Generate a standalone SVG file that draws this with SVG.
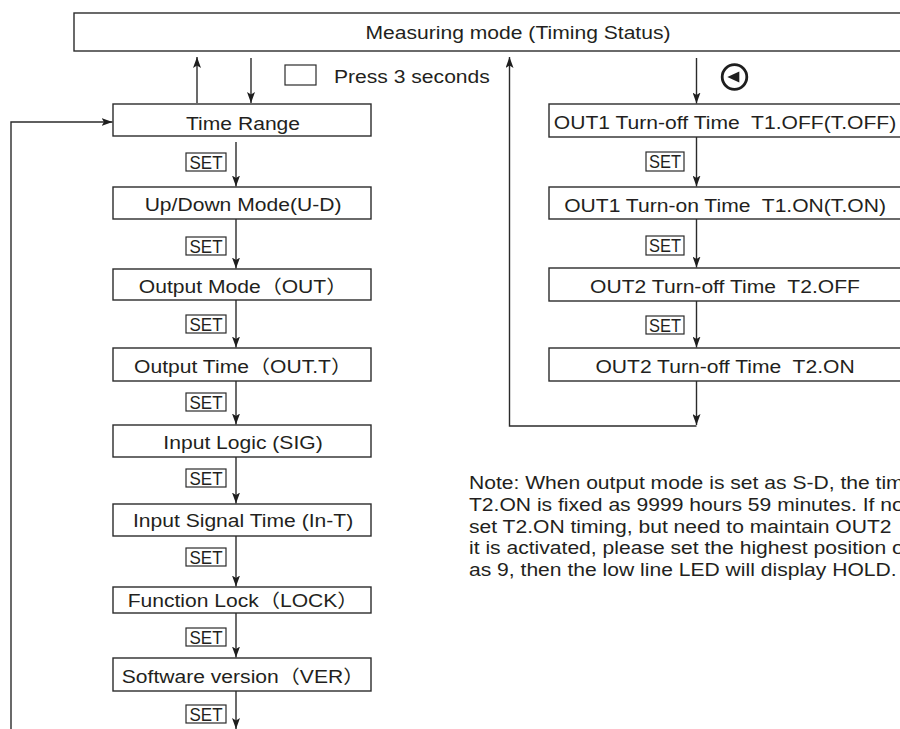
<svg xmlns="http://www.w3.org/2000/svg" width="900" height="729" viewBox="0 0 900 729">
<style>
.box{fill:#fff;stroke:#2b2b2b;stroke-width:1.4}
.key{fill:#fff;stroke:#2b2b2b;stroke-width:1.2}
.t{font-family:"Liberation Sans",Arial,"Noto Sans CJK SC",sans-serif;font-size:18.5px;fill:#231f20}
.c{text-anchor:middle}
.set{font-family:"Liberation Sans",Arial,sans-serif;font-size:18.5px;fill:#231f20;text-anchor:middle}
.ln{fill:none;stroke:#2b2b2b;stroke-width:1.4}
.arr{marker-end:url(#ah)}
</style>
<defs>
<marker id="ah" viewBox="0 0 11 8" markerWidth="11" markerHeight="8" refX="11" refY="4" orient="auto" markerUnits="userSpaceOnUse">
<path d="M0,0 L11,4 L0,8 L2.5,4 z" fill="#1e1e1e"/>
</marker>
</defs>
<rect width="900" height="729" fill="#fff"/>

<g id="measuring">
<rect class="box" x="74" y="13" width="840" height="38"/>
<text class="t c" transform="scale(1.14,1)" x="454.4" y="39">Measuring mode (Timing Status)</text>
</g>

<g id="legend-press">
<rect class="key" x="285" y="65" width="31" height="20"/>
<text class="t" transform="scale(1.14,1)" x="293" y="83">Press 3 seconds</text>
</g>

<g id="legend-left-key">
<circle cx="734.5" cy="77" r="12.3" fill="none" stroke="#1e1e1e" stroke-width="2.8"/>
<path d="M727.3,77 L739.3,71.5 L739.3,82.5 z" fill="#1e1e1e"/>
</g>

<g id="time-range">
<rect class="box" x="113" y="104" width="258" height="32"/>
<text class="t c" transform="scale(1.14,1)" x="213.2" y="130">Time Range</text>
</g>
<g id="up-down-mode">
<rect class="box" x="113" y="187" width="258" height="32"/>
<text class="t c" transform="scale(1.14,1)" x="213.2" y="211">Up/Down Mode(U-D)</text>
</g>
<g id="output-mode">
<rect class="box" x="113" y="269" width="258" height="31"/>
<text class="t c" transform="scale(1.14,1)" x="213.2" y="293">Output Mode（OUT）</text>
</g>
<g id="output-time">
<rect class="box" x="113" y="348" width="258" height="33"/>
<text class="t c" transform="scale(1.14,1)" x="213.2" y="373">Output Time（OUT.T）</text>
</g>
<g id="input-logic">
<rect class="box" x="113" y="425" width="258" height="32"/>
<text class="t c" transform="scale(1.14,1)" x="213.2" y="449">Input Logic (SIG)</text>
</g>
<g id="input-signal-time">
<rect class="box" x="113" y="504" width="258" height="32"/>
<text class="t c" transform="scale(1.14,1)" x="213.2" y="527">Input Signal Time (In-T)</text>
</g>
<g id="function-lock">
<rect class="box" x="113" y="587" width="258" height="26"/>
<text class="t c" transform="scale(1.14,1)" x="213.2" y="607">Function Lock（LOCK）</text>
</g>
<g id="software-version">
<rect class="box" x="113" y="658" width="258" height="33"/>
<text class="t c" transform="scale(1.14,1)" x="213.2" y="683">Software version（VER）</text>
</g>

<g id="t1-off">
<rect class="box" x="549" y="104" width="352" height="33"/>
<text class="t c" transform="scale(1.14,1)" x="636" y="129.5" xml:space="preserve">OUT1 Turn-off Time  T1.OFF(T.OFF)</text>
</g>
<g id="t1-on">
<rect class="box" x="549" y="187" width="352" height="32"/>
<text class="t c" transform="scale(1.14,1)" x="636" y="212.5" xml:space="preserve">OUT1 Turn-on Time  T1.ON(T.ON)</text>
</g>
<g id="t2-off">
<rect class="box" x="549" y="268" width="352" height="33"/>
<text class="t c" transform="scale(1.14,1)" x="636" y="293" xml:space="preserve">OUT2 Turn-off Time  T2.OFF</text>
</g>
<g id="t2-on">
<rect class="box" x="549" y="348" width="352" height="33"/>
<text class="t c" transform="scale(1.14,1)" x="636" y="373.5" xml:space="preserve">OUT2 Turn-off Time  T2.ON</text>
</g>

<g id="connectors">
<path class="ln arr" d="M197,103 V57"/>
<path class="ln arr" d="M251,58 V103"/>
<path class="ln arr" d="M696.5,426 H509.5 V57"/>
<path class="ln arr" d="M696.5,58 V103.5"/>
<path class="ln arr" d="M696.5,137 V186.5"/>
<path class="ln arr" d="M696.5,219 V267.5"/>
<path class="ln arr" d="M696.5,301 V347.5"/>
<path class="ln arr" d="M696.5,381 V425"/>
<path class="ln arr" d="M236,142 V186.5"/>
<path class="ln arr" d="M236,219 V268.5"/>
<path class="ln arr" d="M236,300 V347.5"/>
<path class="ln arr" d="M236,381 V424.5"/>
<path class="ln arr" d="M236,457 V503.5"/>
<path class="ln arr" d="M236,536 V586.5"/>
<path class="ln arr" d="M236,613 V657.5"/>
<path class="ln arr" d="M236,691 V729"/>
<path class="ln arr" d="M11,729 V122 H112.5"/>
</g>

<g id="set-labels">
<rect class="key" x="186" y="153" width="40" height="18"/><text class="set" x="206" y="168.5" textLength="33" lengthAdjust="spacingAndGlyphs">SET</text>
<rect class="key" x="186" y="237" width="40" height="18"/><text class="set" x="206" y="252.5" textLength="33" lengthAdjust="spacingAndGlyphs">SET</text>
<rect class="key" x="186" y="315" width="40" height="18"/><text class="set" x="206" y="330.5" textLength="33" lengthAdjust="spacingAndGlyphs">SET</text>
<rect class="key" x="186" y="393" width="40" height="18"/><text class="set" x="206" y="408.5" textLength="33" lengthAdjust="spacingAndGlyphs">SET</text>
<rect class="key" x="186" y="469" width="40" height="18"/><text class="set" x="206" y="484.5" textLength="33" lengthAdjust="spacingAndGlyphs">SET</text>
<rect class="key" x="186" y="548" width="40" height="18"/><text class="set" x="206" y="563.5" textLength="33" lengthAdjust="spacingAndGlyphs">SET</text>
<rect class="key" x="186" y="628" width="40" height="18"/><text class="set" x="206" y="643.5" textLength="33" lengthAdjust="spacingAndGlyphs">SET</text>
<rect class="key" x="186" y="705" width="40" height="18"/><text class="set" x="206" y="720.5" textLength="33" lengthAdjust="spacingAndGlyphs">SET</text>
<rect class="key" x="646" y="152" width="38" height="19"/><text class="set" x="665" y="168" textLength="32" lengthAdjust="spacingAndGlyphs">SET</text>
<rect class="key" x="646" y="236" width="38" height="19"/><text class="set" x="665" y="252" textLength="32" lengthAdjust="spacingAndGlyphs">SET</text>
<rect class="key" x="646" y="316" width="38" height="18"/><text class="set" x="665" y="331.5" textLength="32" lengthAdjust="spacingAndGlyphs">SET</text>
</g>

<g id="note">
<text class="t" transform="scale(1.14,1)" x="411.4" y="489">Note: When output mode is set as S-D, the tim</text>
<text class="t" transform="scale(1.14,1)" x="411.4" y="511">T2.ON is fixed as 9999 hours 59 minutes. If no</text>
<text class="t" transform="scale(1.14,1)" x="411.4" y="533">set T2.ON timing, but need to maintain OUT2</text>
<text class="t" transform="scale(1.14,1)" x="411.4" y="554">it is activated, please set the highest position o</text>
<text class="t" transform="scale(1.14,1)" x="411.4" y="576">as 9, then the low line LED will display HOLD.</text>
</g>
</svg>
